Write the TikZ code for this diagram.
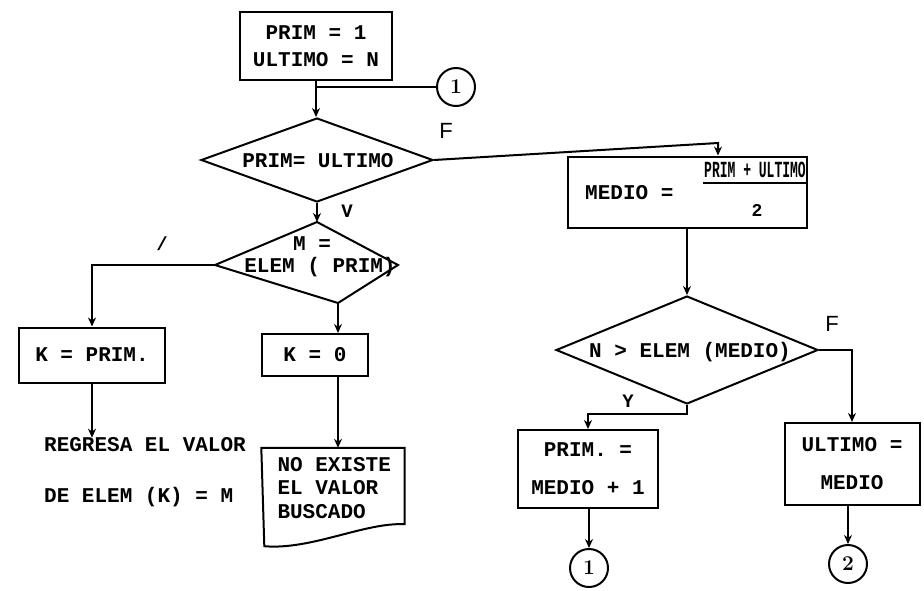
\documentclass[tikz,border=0pt]{standalone}
\usepackage{fontspec}
\setmonofont{Liberation Mono}
\setsansfont{Liberation Sans}
\usepackage{graphicx}
\usetikzlibrary{shapes.geometric,arrows.meta,calc}
\newcommand\mytxt{\ttfamily\bfseries\fontsize{21}{27}\selectfont}
\begin{document}
\begin{tikzpicture}[x=1pt,y=-1pt,
  ln/.style={line width=2pt},
  arr/.style={line width=2pt,-{Stealth[length=9pt,width=8pt]}},
  box/.style={draw,line width=2pt,inner sep=0pt},
  dia/.style={draw,diamond,line width=2pt,inner sep=0pt},
  txt/.style={font=\mytxt,align=center,inner sep=0pt},
  conn/.style={draw,circle,line width=2pt,inner sep=0pt,minimum size=38pt,font=\rmfamily\bfseries\fontsize{21}{22}\selectfont},
  lbl/.style={font=\sffamily\fontsize{22}{24}\selectfont,inner sep=0pt},
  mlbl/.style={font=\ttfamily\bfseries\fontsize{19}{22}\selectfont,inner sep=0pt}
]
\useasboundingbox (0,0) rectangle (924,590);

% top
\node[box,txt,minimum width=152pt,minimum height=68pt] (b1) at (316,46) {PRIM = 1\\ULTIMO = N};
\node[conn] (c1) at (456,87) {1};
\coordinate (j1) at (b1.south |- c1.west);
\node[dia,minimum width=232pt,minimum height=84pt] (d1) at (317,160) {};
\node[txt] (d1x) at (318,161) {PRIM= ULTIMO};
\draw[arr] (b1.south) -- (b1.south |- d1.north);
\draw[ln] (c1.west) -- (j1);
\node[lbl] (fl1) at (446,131) {F};

% second decision (skewed)
\coordinate (d2t) at (317,222);
\coordinate (d2r) at (398,265);
\coordinate (d2b) at (338,303);
\coordinate (d2l) at (215,265);
\draw[ln] (d2t) -- (d2r) -- (d2b) -- (d2l) -- cycle;
\node[txt] (d2x) at (312,244) {M =};
\node[txt] (d2y) at (320,267) {ELEM ( PRIM)};
\draw[arr] (d1.south) -- (d2t);
\node[mlbl] (v1) at (347,211) {V};

% left branch
\node[box,txt,minimum width=146pt,minimum height=55pt] (kp) at (92,355) {K = PRIM.};
\draw[arr] (d2l) -| (kp.north);
\node[mlbl] (tick) at (162,244) {/};
\node[txt,anchor=west] (r1) at (44,445) {REGRESA EL VALOR};
\node[txt,anchor=west] (r2) at (44,497) {DE ELEM (K) = M};
\draw[arr] (kp.south) -- (kp.south |- r1.north);

% K = 0 and document
\node[box,txt,minimum width=106pt,minimum height=42pt] (k0) at (315,355) {K = 0};
\draw[arr] (d2b) -- (d2b |- k0.north);
\node[minimum width=143pt,minimum height=98pt,inner sep=0pt] (doc) at (333,497) {};
\draw[ln] (doc.north west) -- (doc.north east) -- ([yshift=22pt]doc.south east)
  .. controls ([xshift=-40pt,yshift=24pt]doc.south east) and ([xshift=50pt,yshift=-4pt]doc.south west) .. ([xshift=3pt]doc.south west) -- cycle;
\node[txt,align=left,anchor=north west,font=\ttfamily\bfseries\fontsize{21}{23.5}\selectfont] (doct) at ([xshift=16pt,yshift=-9pt]doc.north west) {NO EXISTE\\EL VALOR\\BUSCADO};
\draw[arr] (k0.south -| d2b) -- (doc.north -| d2b);

% MEDIO box
\node[box,minimum width=239pt,minimum height=71pt] (md) at (687,192) {};
\node[txt,anchor=west] (mdt) at (585,193) {MEDIO =};
\node[txt] (num) at (755,170) {\scalebox{0.62}[1.1]{PRIM + ULTIMO}};
\coordinate (fl) at (703,183);
\draw[ln] (fl) -- (fl -| md.east);
\node[txt,font=\ttfamily\bfseries\fontsize{18}{20}\selectfont] (den) at (757,210) {2};
\coordinate (f1) at (718,143);
\draw[arr] (d1.east) -- (f1) -- (f1 |- md.north);

% third decision
\node[dia,minimum width=262pt,minimum height=108pt] (d3) at (687,350) {};
\node[txt] (d3x) at (690,352) {N > ELEM (MEDIO)};
\draw[arr] (md.south) -- (md.south |- d3.north);
\node[lbl] (fl2) at (832,324) {F};

% right branch
\node[box,txt,minimum width=135pt,minimum height=82pt] (ul) at (852,464) {ULTIMO =\\[11pt]MEDIO};
\draw[arr] (d3.east) -| (ul.north);
\node[conn] (c2) at (848,564) {2};
\draw[arr] (c2.north |- ul.south) -- (c2.north);

% Y branch
\node[box,txt,minimum width=140pt,minimum height=78pt] (pm) at (588,469) {PRIM. =\\[11pt]MEDIO + 1};
\coordinate (yb) at ([yshift=-9pt]d3.south);
\draw[arr] (d3.south) -- (yb) -| (pm.north);
\node[mlbl] (y1) at (628,401) {Y};
\node[conn] (c3) at (589,568) {1};
\draw[arr] (c3.north |- pm.south) -- (c3.north);
\end{tikzpicture}
\end{document}
